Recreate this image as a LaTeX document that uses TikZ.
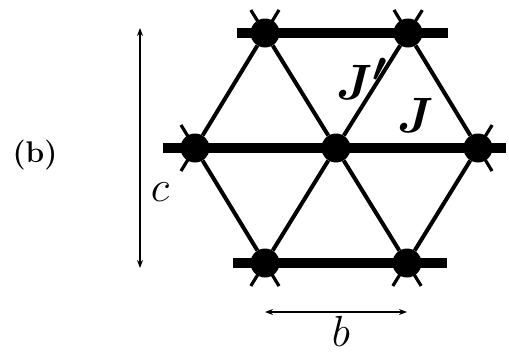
\documentclass[tikz,border=0pt]{standalone}
\usepackage{amsmath}
\usepackage{bm}
\usepackage{graphicx}
\usepackage{tikz}
\usetikzlibrary{arrows.meta, calc}

\begin{document}
\begin{tikzpicture}[x=1pt, y=-1pt,
  site/.style={circle, fill=black, inner sep=0pt, minimum size=29pt},
  bond/.style={line width=4pt},
  chain/.style={line width=9.5pt},
  stub/.style={line width=3.2pt},
  dim/.style={line width=1.6pt, {Stealth[length=8pt,width=6pt]}-{Stealth[length=8pt,width=6pt]}}]
\useasboundingbox (0,0) rectangle (509,356);
% sites
\node[site] (t1) at (265,33) {};
\node[site] (t2) at (408,33) {};
\node[site] (m1) at (195,148) {};
\node[site] (m2) at (336,148) {};
\node[site] (m3) at (478,148) {};
\node[site] (b1) at (265,263) {};
\node[site] (b2) at (407,263) {};
% chain ends
\coordinate (t0) at (237,33);
\coordinate (t3) at (448,33);
\coordinate (m0) at (163,148);
\coordinate (m4) at (506,148);
\coordinate (b0) at (233,263);
\coordinate (b3) at (447,263);
% chains, J
\draw[chain] (t0) -- (t3);
\draw[chain] (m0) -- (m4);
\draw[chain] (b0) -- (b3);
% bonds between chains, J'
\foreach \p/\q in {t1/m1, t1/m2, t2/m2, t2/m3, m1/b1, m2/b1, m2/b2, m3/b2}
  \draw[bond] (\p) -- (\q);
% short stubs at the edge sites
\foreach \p/\q in {t1/m1, t1/m2, t2/m2, t2/m3, m1/t1, m1/b1, m3/t2, m3/b2, b1/m1, b1/m2, b2/m2, b2/m3}
  \draw[stub] (\p.center) -- ($(\p.center)!-27pt!(\q.center)$);
% labels
\node (jp) at (362,79) {\scalebox{2}{\Huge$\bm{J}^{\bm{\prime}}$}};
\node (jj) at (416,115) {\scalebox{2}{\Huge$\bm{J}$}};
\node (lab) at (35,155) {\scalebox{1.2}{\Huge\bfseries (b)}};
% lattice constants
\coordinate (ca) at (140,28);
\coordinate (cb) at (140,268);
\coordinate (ba) at (265,312);
\coordinate (bb) at (407,312);
\draw[dim] (ca) -- (cb);
\draw[dim] (ba) -- (bb);
\node (lc) at (160,192) {\scalebox{1.75}{\Huge$c$}};
\node (lb) at (341,331) {\scalebox{1.75}{\Huge$b$}};
\end{tikzpicture}
\end{document}
